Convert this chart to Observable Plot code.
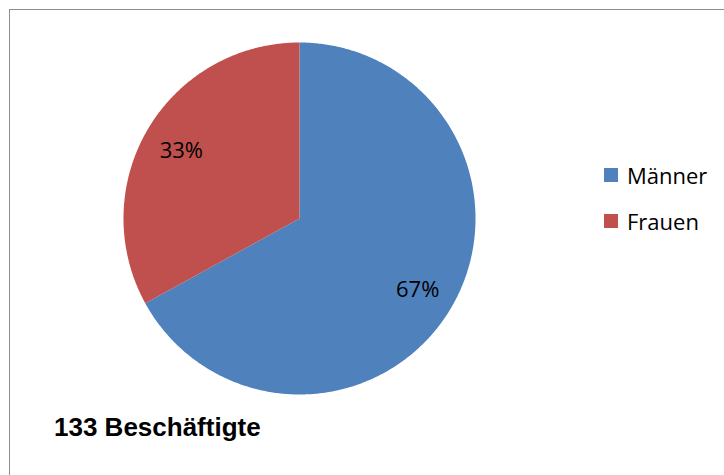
<!DOCTYPE html>
<html>
<head>
<meta charset="utf-8">
<script src="https://cdn.jsdelivr.net/npm/d3@7"></script>
<script src="https://cdn.jsdelivr.net/npm/@observablehq/plot@0.6"></script>
<style>
  html, body { margin: 0; padding: 0; background: #fff; }
  #wrap { position: relative; width: 724px; height: 475px; overflow: hidden; }
  #frame { position: absolute; left: 9px; top: 9px; width: 800px; height: 600px; border: 1.5px solid #8c8c8c; box-sizing: border-box; }
  #chart { position: absolute; left: 0; top: 0; }
  .legend { position: absolute; left: 604px; font-family: "Open Sans", sans-serif; font-size: 22px; color: #000; }
  .legend .item { position: absolute; left: 0; white-space: nowrap; display: flex; align-items: center; }
  .legend .sw { width: 14px; height: 14px; margin-right: 9px; }
  #title { position: absolute; left: 54px; top: 412px; font-family: "Liberation Sans", Arial, sans-serif; font-weight: bold; font-size: 26px; white-space: nowrap; }
</style>
</head>
<body>
<div id="wrap">
  <div id="frame"></div>
  <div id="chart"></div>
  <div class="legend" id="legend"></div>
  <div id="title"></div>
</div>
<script>
const categories = ["Männer", "Frauen"];
const shares = [67, 33];
const colors = ["#4F81BD", "#C0504D"];
const percentLabels = ["67%", "33%"];
const totalEmployees = 133;

// build slice polygons from the shares (clockwise from 12 o'clock)
const sum = d3.sum(shares);
const rows = [];
const labels = [];
let acc = 0;
categories.forEach((c, i) => {
  const a0 = acc / sum * 2 * Math.PI;
  acc += shares[i];
  const a1 = acc / sum * 2 * Math.PI;
  rows.push({cat: c, x: 0, y: 0});
  const n = Math.max(2, Math.ceil((a1 - a0) / (Math.PI / 360)));
  for (let k = 0; k <= n; ++k) {
    const a = a0 + (a1 - a0) * k / n;
    rows.push({cat: c, x: Math.sin(a), y: Math.cos(a)});
  }
  const am = (a0 + a1) / 2;
  labels.push({cat: c, label: percentLabels[i], x: 0.78 * Math.sin(am), y: 0.78 * Math.cos(am)});
});

const chart = Plot.plot({
  width: 724,
  height: 475,
  margin: 0,
  x: {domain: [-1, 1], range: [123, 475], axis: null},
  y: {domain: [-1, 1], range: [394, 42], axis: null},
  color: {domain: categories, range: colors},
  marks: [
    ...categories.map((c, i) => Plot.line(rows.filter(r => r.cat === c), {
      x: "x", y: "y", fill: colors[i], stroke: "none", curve: "linear"
    })),
    Plot.text(labels, {
      x: "x", y: "y", text: "label", fontSize: 22, fill: "#000",
      fontFamily: "Open Sans, sans-serif", dy: 2
    })
  ],
  style: {background: "transparent", overflow: "visible"}
});
document.getElementById("chart").appendChild(chart);

const legend = document.getElementById("legend");
const legendTops = [160, 206];
categories.forEach((c, i) => {
  const item = document.createElement("div");
  item.className = "item";
  item.style.top = legendTops[i] + "px";
  const sw = document.createElement("span");
  sw.className = "sw";
  sw.style.background = colors[i];
  const t = document.createElement("span");
  t.textContent = c;
  item.appendChild(sw);
  item.appendChild(t);
  legend.appendChild(item);
});

document.getElementById("title").textContent = totalEmployees + " Beschäftigte";
</script>
</body>
</html>
